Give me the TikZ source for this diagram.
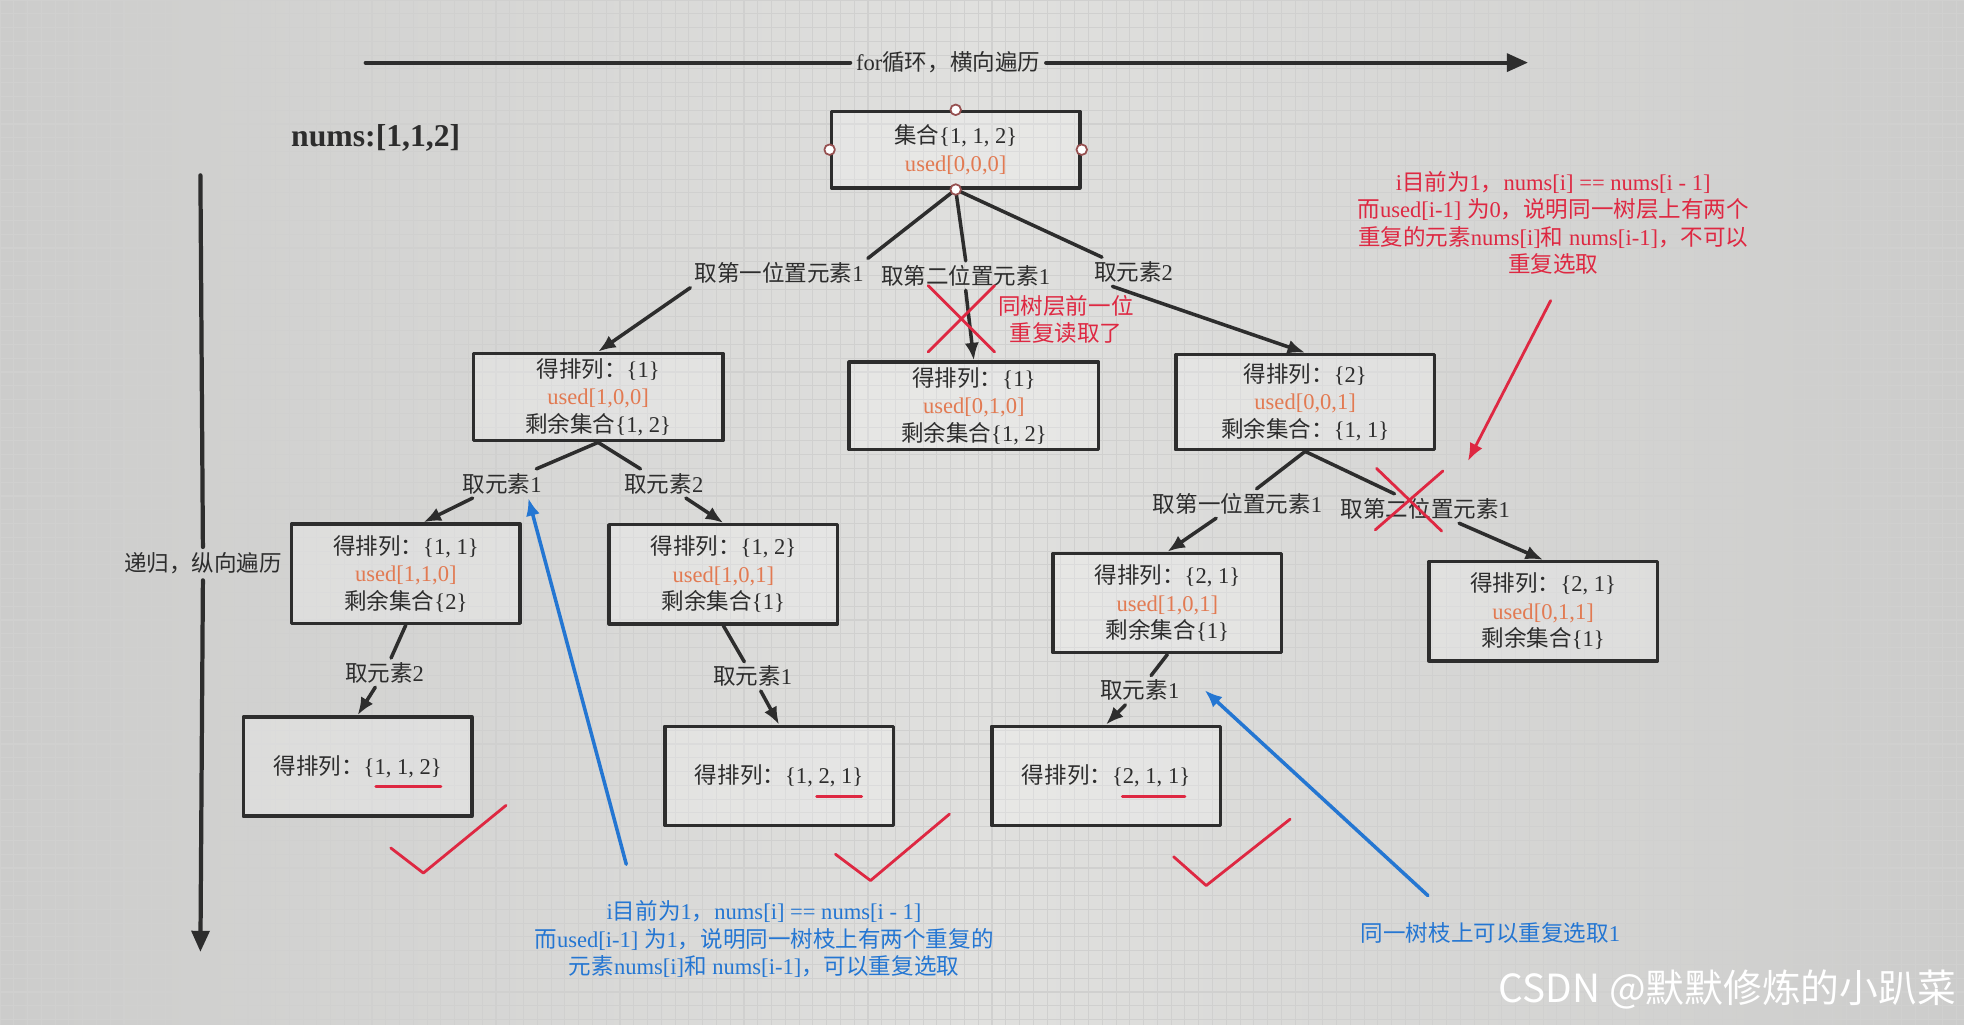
\documentclass[tikz,border=0pt]{standalone}
\usepackage{fontspec}
\setmainfont{Liberation Serif}
\newfontfamily\cjk{Noto Sans CJK SC}
\newcommand\zh[1]{{\cjk #1}}
\newcommand\usd[1]{\textcolor{usedc}{#1}}
\usetikzlibrary{arrows.meta,positioning,calc}

\definecolor{bgc}{RGB}{224,224,222}
\definecolor{bgedge}{RGB}{204,204,203}
\definecolor{gridc}{RGB}{208,208,207}
\definecolor{ink}{RGB}{45,45,45}
\definecolor{usedc}{RGB}{226,122,82}
\definecolor{redc}{RGB}{222,40,66}
\definecolor{bluec}{RGB}{36,118,210}
\definecolor{hdlc}{RGB}{150,80,80}

\tikzset{
  box/.style={draw=ink,line width=1pt,fill=white,fill opacity=0.25,text opacity=1,
    text=ink,align=center,inner sep=0pt,font=\fontsize{6.4}{7.8}\selectfont},
  wide/.style={minimum width=2.49cm,minimum height=0.87cm},
  leaf/.style={minimum width=2.28cm,minimum height=0.99cm},
  take/.style={text=ink,inner sep=1pt,font=\fontsize{6.4}{7.8}\selectfont},
  link/.style={draw=ink,line width=1pt},
  arr/.style={link,-{Latex[length=5pt,width=4pt]}},
  axisline/.style={draw=ink,line width=1.2pt},
  axlbl/.style={text=ink,inner sep=1.5pt,font=\fontsize{6.4}{7.8}\selectfont},
  redline/.style={draw=redc,line width=0.8pt},
  redarr/.style={redline,-{Latex[length=5pt,width=4pt]}},
  bluearr/.style={draw=bluec,line width=1pt,-{Latex[length=5pt,width=4pt]}},
  note/.style={align=center,inner sep=0pt,font=\fontsize{6.4}{7.8}\selectfont},
  hdl/.style={draw=hdlc,fill=white,line width=0.5pt},
  gridline/.style={draw=gridc,line width=0.3pt}
}

\begin{document}
\begin{tikzpicture}[x=0.0125cm,y=-0.0125cm,line join=round,line cap=round]
  \useasboundingbox (0,0) rectangle (1568,818);
  % paper
  \shade[left color=bgedge,right color=bgedge,middle color=bgc] (0,0) rectangle (1568,818);
  \foreach \gx in {0,11,...,1568} \draw[gridline] (\gx,0) -- (\gx,818);
  \foreach \gy in {0,11,...,818} \draw[gridline] (0,\gy) -- (1568,\gy);

  % axes
  \coordinate (hs) at (292,50);
  \coordinate (he) at (1220,50);
  \node[axlbl] (hl) at (757,50) {for\zh{循环，横向遍历}};
  \draw[axisline] (hs) -- (hl.west);
  \draw[axisline,-{Triangle[length=6pt,width=5pt]}] (hl.east) -- (he);
  \coordinate (vs) at (160,140);
  \coordinate (ve) at (160,760);
  \node[axlbl] (vl) at (162,450) {\zh{递归，纵向遍历}};
  \draw[axisline] (vs) -- (vl.north);
  \draw[axisline,-{Triangle[length=6pt,width=5pt]}] (vl.south) -- (ve);

  \node[text=ink,font=\bfseries\fontsize{9}{10}\selectfont] (nums) at (300,110) {nums:[1,1,2]};

  % boxes
  \node[box,minimum width=2.48cm,minimum height=0.76cm] (root) at (763,119.5)
    {\zh{集合}\{1, 1, 2\}\\\usd{used[0,0,0]}};
  \node[box,wide] (p1a) at (477.5,317)
    {\zh{得排列：}\{1\}\\\usd{used[1,0,0]}\\\zh{剩余集合}\{1, 2\}};
  \node[box,wide] (p1b) at (777.5,324)
    {\zh{得排列：}\{1\}\\\usd{used[0,1,0]}\\\zh{剩余集合}\{1, 2\}};
  \node[box,minimum width=2.58cm,minimum height=0.95cm] (p2) at (1042,321)
    {\zh{得排列：}\{2\}\\\usd{used[0,0,1]}\\\zh{剩余集合：}\{1, 1\}};
  \node[box,leaf] (p11) at (324,458)
    {\zh{得排列：}\{1, 1\}\\\usd{used[1,1,0]}\\\zh{剩余集合}\{2\}};
  \node[box,leaf] (p12) at (577.5,458.5)
    {\zh{得排列：}\{1, 2\}\\\usd{used[1,0,1]}\\\zh{剩余集合}\{1\}};
  \node[box,leaf] (p21a) at (932,481.5)
    {\zh{得排列：}\{2, 1\}\\\usd{used[1,0,1]}\\\zh{剩余集合}\{1\}};
  \node[box,leaf] (p21b) at (1232,488)
    {\zh{得排列：}\{2, 1\}\\\usd{used[0,1,1]}\\\zh{剩余集合}\{1\}};
  \node[box,leaf] (p112) at (285.5,612) {\zh{得排列：}\{1, 1, 2\}};
  \node[box,leaf] (p121) at (622,619.5) {\zh{得排列：}\{1, 2, 1\}};
  \node[box,leaf] (p211) at (883,619.5) {\zh{得排列：}\{2, 1, 1\}};

  % branch labels
  \node[take] (t1a) at (622,218) {\zh{取第一位置元素}1};
  \node[take] (t1b) at (771,220) {\zh{取第二位置元素}1};
  \node[take] (t2) at (905,217) {\zh{取元素}2};
  \node[take] (t11) at (401,386) {\zh{取元素}1};
  \node[take] (t12) at (530,386) {\zh{取元素}2};
  \node[take] (t112) at (307,537) {\zh{取元素}2};
  \node[take] (t121) at (601,540) {\zh{取元素}1};
  \node[take] (t21a) at (988,402) {\zh{取第一位置元素}1};
  \node[take] (t21b) at (1138,406) {\zh{取第二位置元素}1};
  \node[take] (t211) at (910,551) {\zh{取元素}1};

  % tree edges
  \draw[link] (root.south) -- (t1a.north east);
  \draw[link] (root.south) -- (t1b.north);
  \draw[link] (root.south) -- (t2);
  \draw[arr] (t1a.south west) -- (p1a.north);
  \draw[arr] (t1b.south) -- (p1b.north);
  \draw[arr] ([xshift=-6pt]t2.south) -- (p2.north);
  \draw[link] (p1a.south) -- (t11);
  \draw[link] (p1a.south) -- (t12);
  \draw[arr] (t11) -- ([xshift=5pt]p11.north);
  \draw[arr] (t12) -- (p12.north);
  \draw[link] (p11.south) -- (t112);
  \draw[arr] (t112) -- (p112.north);
  \draw[link] (p12.south) -- (t121);
  \draw[arr] (t121) -- (p121.north);
  \draw[link] (p2.south) -- (t21a);
  \draw[link] (p2.south) -- (t21b);
  \draw[arr] (t21a) -- (p21a.north);
  \draw[arr] (t21b) -- (p21b.north);
  \draw[link] (p21a.south) -- (t211);
  \draw[arr] (t211) -- (p211.north);
  \foreach \a in {north,west,east,south} \draw[hdl] (root.\a) circle (1.5pt);

  % pruned branches
  \draw[redline] (741,228) -- (794,281) (794,228) -- (741,281);
  \draw[redline] (1099,374) -- (1151,424) (1152,376) -- (1098,423);
  \node[note,text=redc] (rs) at (851,255) {\zh{同树层前一位}\\\zh{重复读取了}};
  \node[note,text=redc] (rn) at (1240,178)
    {i\zh{目前为}1\zh{，}nums[i] == nums[i - 1]\\
     \zh{而}used[i-1] \zh{为}0\zh{，说明同一树层上有两个}\\
     \zh{重复的元素}nums[i]\zh{和} nums[i-1]\zh{，不可以}\\
     \zh{重复选取}};
  \coordinate (ra0) at (1238,240);
  \coordinate (ra1) at (1172,368);
  \draw[redarr] (ra0) -- (ra1);

  % results
  \draw[redline] ($(p112.center)+(14.5,16)$) -- ++(52,0);
  \draw[redline] ($(p121.center)+(30,16.5)$) -- ++(36,0);
  \draw[redline] ($(p211.center)+(13,16.5)$) -- ++(50,0);
  \draw[redline] (312,677) -- (338,697) -- (404,643);
  \draw[redline] (667,682) -- (695,703) -- (758,650);
  \draw[redline] (937,684) -- (963,707) -- (1030,654);

  % same branch notes
  \node[note,text=bluec] (bn1) at (610,750)
    {i\zh{目前为}1\zh{，}nums[i] == nums[i - 1]\\
     \zh{而}used[i-1] \zh{为}1\zh{，说明同一树枝上有两个重复的}\\
     \zh{元素}nums[i]\zh{和} nums[i-1]\zh{，可以重复选取}};
  \node[note,text=bluec] (bn2) at (1190,745) {\zh{同一树枝上可以重复选取}1};
  \coordinate (b1) at (500,690);
  \coordinate (b2) at (1140,715);
  \draw[bluearr] (b1) -- ([xshift=-5pt]t11.south east);
  \draw[bluearr] (b2) -- ([xshift=6pt]t211.east);

  \node[anchor=east,text=white,inner sep=0pt,font=\cjk\fontsize{11}{13}\selectfont] (wm) at (1562,790)
    {CSDN @默默修炼的小趴菜};
\end{tikzpicture}
\end{document}
